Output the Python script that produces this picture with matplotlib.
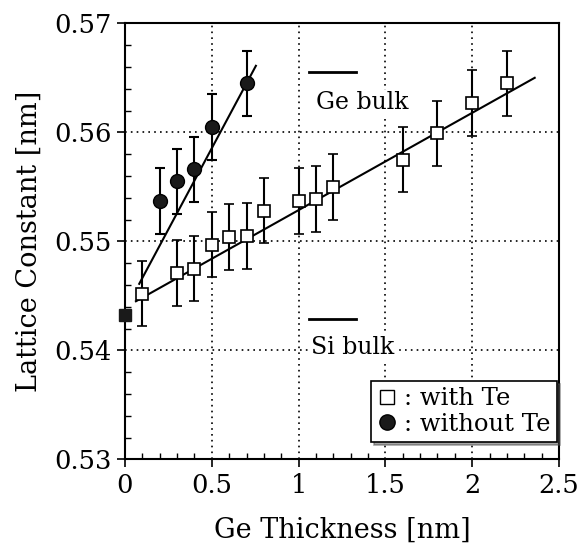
import numpy as np
import matplotlib
matplotlib.use('Agg')
import matplotlib.pyplot as plt
from matplotlib.ticker import MultipleLocator

plt.rcParams['font.family'] = ['DejaVu Serif']

# with Te (open squares)
x_te = [0.1, 0.3, 0.4, 0.5, 0.6, 0.7, 0.8, 1.0, 1.1, 1.2, 1.6, 1.8, 2.0, 2.2]
y_te = [0.5452, 0.5471, 0.5475, 0.5497, 0.5504, 0.5505, 0.5528, 0.5537, 0.5539,
        0.5550, 0.5575, 0.5599, 0.5627, 0.5645]
err_te = 0.003

# without Te (filled circles)
x_no = [0.2, 0.3, 0.4, 0.5, 0.7]
y_no = [0.5537, 0.5555, 0.5566, 0.5605, 0.5645]
err_no = 0.003
x0, y0 = 0.0, 0.5432

# fitted lines (endpoints)
fit_te_x = [0.063, 2.36]
fit_te_y = [0.5445, 0.5650]
fit_no_x = [0.082, 0.754]
fit_no_y = [0.5461, 0.5661]

ge_bulk = 0.5655
si_bulk = 0.5429

fig = plt.figure(figsize=(5.8, 5.51), dpi=100)
ax = fig.add_axes([0.2155, 0.1664, 0.7483, 0.7913])

ax.grid(True, color='black', linestyle=(0, (1, 2.5)), linewidth=1.2)
ax.set_axisbelow(True)

ax.plot(fit_te_x, fit_te_y, color='black', lw=1.5, zorder=3)
ax.plot(fit_no_x, fit_no_y, color='black', lw=1.5, zorder=3)

ax.errorbar(x_te, y_te, yerr=err_te, fmt='s', ms=8.5, mfc='white', mec='black',
            mew=1.2, ecolor='black', elinewidth=1.5, capsize=3.5, capthick=1.5, zorder=4)
ax.errorbar(x_no, y_no, yerr=err_no, fmt='o', ms=10, mfc='#1a1a1a', mec='black',
            ecolor='black', elinewidth=1.5, capsize=3.5, capthick=1.5, zorder=4)
ax.plot([x0], [y0], 's', ms=9, color='#1a1a1a', zorder=5, clip_on=False)

ax.plot([1.06, 1.33], [ge_bulk, ge_bulk], color='black', lw=2, zorder=3)
ax.plot([1.06, 1.33], [si_bulk, si_bulk], color='black', lw=2, zorder=3)
ax.text(1.1, 0.5627, 'Ge bulk', fontsize=17, ha='left', va='center',
        bbox=dict(facecolor='white', edgecolor='none', pad=1), zorder=3)
ax.text(1.07, 0.5403, 'Si bulk', fontsize=17, ha='left', va='center',
        bbox=dict(facecolor='white', edgecolor='none', pad=1), zorder=3)

ax.set_xlim(0, 2.5)
ax.set_ylim(0.53, 0.57)
ax.xaxis.set_minor_locator(MultipleLocator(0.1))
ax.yaxis.set_minor_locator(MultipleLocator(0.002))
ax.set_xticks([0, 0.5, 1, 1.5, 2, 2.5])
ax.set_xticklabels(['0', '0.5', '1', '1.5', '2', '2.5'])
ax.set_yticks([0.53, 0.54, 0.55, 0.56, 0.57])
ax.set_yticklabels(['0.53', '0.54', '0.55', '0.56', '0.57'])
ax.tick_params(which='major', direction='out', length=6, width=1.2, labelsize=18.5)
ax.tick_params(which='minor', direction='in', length=4, width=1)
for s in ax.spines.values():
    s.set_linewidth(1.5)

ax.set_xlabel('Ge Thickness [nm]', fontsize=19.5, labelpad=14)
ax.set_ylabel('Lattice Constant [nm]', fontsize=19.5, labelpad=8)

h1, = ax.plot([], [], 's', ms=10, mfc='white', mec='black')
h2, = ax.plot([], [], 'o', ms=11, mfc='#1a1a1a', mec='black')
leg = ax.legend([h1, h2], [': with Te', ': without Te'], loc='lower right',
                bbox_to_anchor=(0.995, 0.04), fontsize=17.5, frameon=True, fancybox=False,
                shadow=True, handlelength=0.8, handletextpad=0.3, borderpad=0.25,
                labelspacing=0.1, borderaxespad=0)
leg.get_frame().set_edgecolor('black')
leg.get_frame().set_linewidth(1.2)

fig.savefig('out.png', dpi=100)
